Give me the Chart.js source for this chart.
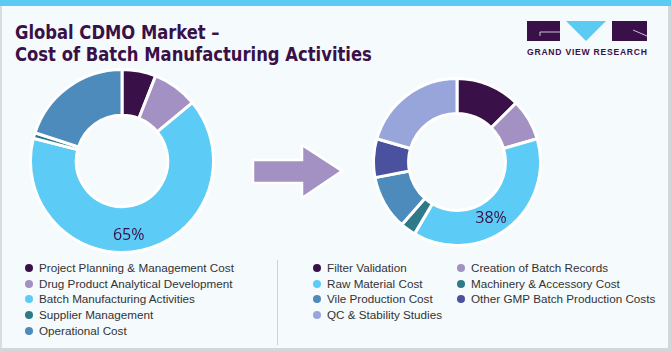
<!DOCTYPE html>
<html>
<head>
<meta charset="utf-8">
<script src="https://cdn.jsdelivr.net/npm/chart.js@4.4.1/dist/chart.umd.min.js"></script>
<style>
  html,body{margin:0;padding:0;background:#f5fafd;}
  #frame{position:relative;width:671px;height:351px;background:#f5fafd;overflow:hidden;font-family:"Liberation Sans",Arial,sans-serif;}
  .abs{position:absolute;}
  .title{position:absolute;left:15px;color:#3a1048;font-family:"DejaVu Sans Condensed","Liberation Sans Narrow",sans-serif;font-weight:bold;font-size:19px;white-space:nowrap;line-height:20px;transform-origin:0 0;}
  .leg{position:absolute;font-size:11.7px;color:#333;white-space:nowrap;line-height:14px;}
  .leg .dot{display:inline-block;width:8px;height:8px;border-radius:50%;position:absolute;left:-14px;top:3px;}
  #brand{position:absolute;left:527px;top:47px;font-size:8.6px;font-weight:bold;color:#3a1048;letter-spacing:0.75px;white-space:nowrap;}
</style>
</head>
<body>
<div id="frame">
  <div class="abs" style="left:0;top:0;width:671px;height:6px;background:#5ccbf3;"></div>
  <div class="abs" style="left:0;top:6px;width:2px;height:345px;background:#d8dde2;"></div>
  <div class="abs" style="left:668px;top:6px;width:3px;height:345px;background:#d3d7db;"></div>
  <div class="abs" style="left:0;top:348px;width:671px;height:3px;background:#d3d7db;"></div>

  <div class="title" id="t1" style="top:22px;">Global CDMO Market –</div>
  <div class="title" id="t2" style="top:44px;">Cost of Batch Manufacturing Activities</div>

  <svg class="abs" style="left:527px;top:21px;" width="121" height="21" viewBox="0 0 121 21">
    <rect x="0" y="0" width="33" height="20" fill="#3a1048"/>
    <path d="M13 11 H33 M13 11 V15" stroke="#c9c3d3" stroke-width="1" fill="none"/>
    <polygon points="39,0 79,0 59,20" fill="#5ccbf3"/>
    <rect x="85" y="0" width="35" height="20" fill="#3a1048"/>
    <path d="M106 9 L120 15" stroke="#c9c3d3" stroke-width="1" fill="none"/>
  </svg>
  <div id="brand">GRAND VIEW RESEARCH</div>

  <canvas id="c1" class="abs" width="186" height="186" style="left:29px;top:68px;"></canvas>
  <canvas id="c2" class="abs" width="170" height="170" style="left:372px;top:77px;"></canvas>

  <svg class="abs" style="left:248px;top:140px;" width="100" height="64">
    <polygon points="5,20 54,20 54,5 94,31 54,58 54,43 5,43" fill="#a391c4" stroke="#ffffff" stroke-width="2.5" stroke-linejoin="miter"/>
  </svg>

  <div class="abs" style="left:277px;top:260px;width:1px;height:85px;background:#cfd3d6;"></div>
  <div id="legL"></div>
  <div id="legR"></div>
</div>
<script>
// ---- data ----
const leftLabels = ["Project Planning & Management Cost","Drug Product Analytical Development","Batch Manufacturing Activities","Supplier Management","Operational Cost"];
const leftValues = [6, 8, 65, 1, 20];
const rightLabels = ["Filter Validation","Creation of Batch Records","Raw Material Cost","Machinery & Accessory Cost","Vile Production Cost","Other GMP Batch Production Costs","QC & Stability Studies"];
const rightValues = [12.5, 8, 38, 3, 10.5, 7.5, 20.5];
const leftHighlight = 2;
const rightHighlight = 2;

// ---- styles ----
const leftColors = ["#3a1048","#a391c4","#5ccbf5","#2e7a88","#4e8bbd"];
const rightColors = ["#3a1048","#a391c4","#5ccbf5","#2e7a88","#4e8bbd","#4a519f","#97a5db"];

// fit title widths
[['t1', 205], ['t2', 357]].forEach(([id, w]) => {
  const el = document.getElementById(id);
  const s = w / el.offsetWidth;
  el.style.transform = 'scaleX(' + s + ')';
});

const pctLabel = {
  id: 'pctLabel',
  afterDatasetsDraw(chart, args, opts) {
    const ctx = chart.ctx;
    const arc = chart.getDatasetMeta(0).data[opts.index];
    const p = arc.getProps(['x','y','startAngle','endAngle','innerRadius','outerRadius'], true);
    const a = p.startAngle + (p.endAngle - p.startAngle) * opts.af;
    const r = p.innerRadius + (p.outerRadius - p.innerRadius) * opts.rf;
    const v = chart.data.datasets[0].data[opts.index];
    ctx.save();
    ctx.font = '16px "Open Sans", "Noto Sans", sans-serif';
    ctx.fillStyle = '#3a1048';
    ctx.textAlign = 'center';
    ctx.textBaseline = 'middle';
    ctx.fillText(Math.round(v) + '%', p.x + Math.cos(a) * r, p.y + Math.sin(a) * r);
    ctx.restore();
  }
};

function makeChart(id, labels, values, colors, cutout, hi, af, rf) {
  return new Chart(document.getElementById(id), {
    type: 'doughnut',
    data: { labels: labels, datasets: [{ data: values, backgroundColor: colors, borderColor: '#ffffff', borderWidth: 3 }] },
    options: {
      responsive: false, animation: false, cutout: cutout,
      layout: { padding: 0 },
      plugins: { legend: { display: false }, tooltip: { enabled: false },
        pctLabel: { index: hi, af: af, rf: rf } }
    },
    plugins: [pctLabel]
  });
}
makeChart('c1', leftLabels, leftValues, leftColors, '50%', leftHighlight, 0.532, 0.63);
makeChart('c2', rightLabels, rightValues, rightColors, '58%', rightHighlight, 0.548, 0.49);

// ---- legends ----
function addLeg(container, labels, colors, x0, colW, cols, y0, dy) {
  const el = document.getElementById(container);
  labels.forEach((l, i) => {
    const c = i % cols, r = Math.floor(i / cols);
    const d = document.createElement('div');
    d.className = 'leg';
    d.style.left = (x0 + c * colW) + 'px';
    d.style.top = (y0 + r * dy) + 'px';
    d.innerHTML = '<span class="dot" style="background:' + colors[i] + '"></span>' + l.replace(/&/g, '&amp;');
    el.appendChild(d);
  });
}
addLeg('legL', leftLabels, leftColors, 39, 0, 1, 261, 15.7);
addLeg('legR', rightLabels, rightColors, 327, 144, 2, 261, 15.7);
</script>
</body>
</html>
